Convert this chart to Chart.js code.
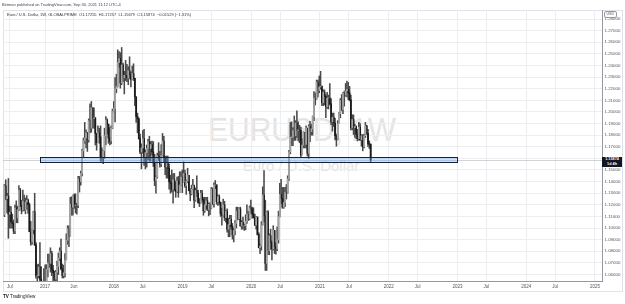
<!DOCTYPE html>
<html><head><meta charset="utf-8">
<script src="https://cdn.jsdelivr.net/npm/chart.js@4.4.0/dist/chart.umd.min.js"></script>
<style>
html,body{margin:0;padding:0;background:#fff;}
#wrap{position:relative;width:625px;height:304px;overflow:hidden;font-family:"Liberation Sans",Arial,sans-serif;}
#c{position:absolute;left:0;top:0;}
.t{position:absolute;white-space:nowrap;line-height:1;}
#frame{position:absolute;left:3px;top:10px;width:620px;height:282px;border:1px solid #dfe2e8;box-sizing:border-box;}
#wm1{left:302px;top:112px;font-size:34px;color:#e4e4e4;transform:translateX(-50%) scaleX(0.88);transform-origin:center;}
#wm2{left:301px;top:158px;font-size:15px;color:#e4e4e4;transform:translateX(-50%);}
#plabel{position:absolute;left:602px;width:20px;height:10px;background:#131722;color:#fff;font-size:3.8px;line-height:4.4px;text-align:center;font-weight:bold;padding-top:0.6px;box-sizing:border-box;}
#usd{left:604px;top:11px;font-size:3.6px;color:#555;border:0.5px solid #999;border-radius:2px;padding:0.5px 1.5px;}
</style></head><body>
<div id="wrap">
 <div id="frame"></div>
 <div class="t" id="wm1">EURUSD, 1W</div>
 <div class="t" id="wm2">Euro / U.S. Dollar</div>
 <canvas id="c" width="625" height="304"></canvas>
 <div class="t" style="left:2px;top:3px;font-size:4px;color:#444">Birtman published on TradingView.com, Sep 30, 2021 11:12 UTC-4</div>
 <div class="t" style="left:7px;top:13px;font-size:4px;color:#333">Euro / U.S. Dollar, 1W, GLOBALPRIME&nbsp; O1.17255&nbsp; H1.17257&nbsp; L1.15679&nbsp; C1.15874&nbsp; −0.01529 (−1.31%)</div>
 <div class="t" id="usd">USD</div>
 <div id="plabel">1.15874<br>1d 4h</div>
 <div class="t" style="left:3px;top:295px;font-size:4.6px;color:#131722"><b>TV</b> TradingView</div>
</div>
<script>
// ---- data (weekly EUR/USD candles, week starting 2016-05-30) ----
const weekStart = '2016-05-30';
const firstOpen = 1.1115;
const closes = [
 1.1365,1.1252,1.1275,1.1118,1.1135,1.1052,1.1040,1.0975,1.1175,1.1087,1.1160,1.1325,1.1197,1.1155,1.1233,1.1154,1.1226,1.1240,1.1201,1.0970,1.0880,1.0985,1.1140,1.0855,1.0588,1.0590,1.0665,1.0560,1.0450,1.0455,1.0520,
 1.0530,1.0645,1.0700,1.0695,1.0780,1.0640,1.0615,1.0560,1.0620,1.0670,1.0740,1.0800,1.0650,1.0590,1.0615,1.0725,1.0895,1.0995,1.0930,1.1205,1.1180,1.1280,1.1195,1.1198,1.1195,1.1425,1.1400,1.1470,1.1665,1.1750,1.1775,1.1820,1.1760,1.1925,1.1860,1.2035,1.1945,1.1950,1.1815,1.1735,1.1820,1.1785,1.1610,1.1610,1.1665,1.1795,1.1930,1.1895,1.1775,1.1750,1.1860,1.2005,
 1.2030,1.2200,1.2220,1.2425,1.2460,1.2250,1.2405,1.2295,1.2315,1.2310,1.2290,1.2355,1.2320,1.2280,1.2330,1.2290,1.2130,1.1960,1.1940,1.1770,1.1655,1.1690,1.1770,1.1610,1.1650,1.1685,1.1745,1.1685,1.1720,1.1655,1.1565,1.1410,1.1440,1.1625,1.1600,1.1550,1.1625,1.1750,1.1605,1.1525,1.1560,1.1515,1.1400,1.1385,1.1335,1.1415,1.1335,1.1315,1.1405,1.1305,1.1370,1.1440,1.1395,
 1.1470,1.1365,1.1405,1.1455,1.1325,1.1295,1.1335,1.1365,1.1240,1.1325,1.1300,1.1220,1.1215,1.1300,1.1245,1.1150,1.1200,1.1235,1.1160,1.1205,1.1170,1.1335,1.1210,1.1370,1.1370,1.1225,1.1270,1.1220,1.1125,1.1110,1.1200,1.1090,1.1145,1.0990,1.1030,1.1075,1.1015,1.0940,1.0980,1.1040,1.1145,1.1080,1.1165,1.1020,1.1050,1.1020,1.1020,1.1060,1.1120,1.1080,1.1175,1.1165,
 1.1120,1.1090,1.1025,1.1095,1.0945,1.0830,1.0845,1.1025,1.1285,1.1105,1.0695,1.1140,1.0805,1.0935,1.0875,1.0820,1.0980,1.0840,1.0820,1.0900,1.1100,1.1290,1.1255,1.1180,1.1220,1.1305,1.1300,1.1425,1.1655,1.1780,1.1785,1.1840,1.1795,1.1905,1.1840,1.1845,1.1840,1.1630,1.1715,1.1825,1.1720,1.1860,1.1645,1.1875,1.1830,1.1855,1.1960,1.2120,1.2110,1.2255,1.2185,1.2215,
 1.2220,1.2080,1.2170,1.2135,1.2045,1.2120,1.2120,1.2070,1.1915,1.1955,1.1905,1.1795,1.1765,1.1900,1.1985,1.2100,1.2020,1.2165,1.2145,1.2180,1.2195,1.2165,1.2105,1.1865,1.1935,1.1865,1.1875,1.1810,1.1770,1.1870,1.1760,1.1795,1.1700,1.1795,1.1880,1.1815,1.1725,1.1720,1.15874
];
const highs = [
 1.1375,1.1416,1.1299,1.1427,1.1188,1.1185,1.1120,1.1070,1.1198,1.1234,1.1189,1.1366,1.1343,1.1240,1.1327,1.1284,1.1259,1.1280,1.1250,1.1215,1.1058,1.0990,1.1145,1.1300,1.0875,1.0685,1.0690,1.0874,1.0667,1.0475,1.0652,
 1.0684,1.0685,1.0775,1.0775,1.0830,1.0800,1.0680,1.0630,1.0635,1.0715,1.0785,1.0830,1.0905,1.0690,1.0680,1.0780,1.0950,1.1020,1.1020,1.1265,1.1270,1.1285,1.1295,1.1295,1.1215,1.1445,1.1445,1.1490,1.1680,1.1775,1.1910,1.1845,1.1825,1.1940,1.2070,1.2090,1.2030,1.2035,1.1880,1.1815,1.1880,1.1860,1.1880,1.1690,1.1670,1.1860,1.1960,1.1940,1.1880,1.1865,1.1880,1.2025,
 1.2090,1.2295,1.2325,1.2535,1.2520,1.2510,1.2555,1.2420,1.2350,1.2445,1.2410,1.2390,1.2475,1.2345,1.2395,1.2415,1.2290,1.2130,1.1990,1.1950,1.1810,1.1725,1.1840,1.1850,1.1675,1.1715,1.1765,1.1790,1.1745,1.1750,1.1745,1.1635,1.1450,1.1645,1.1735,1.1660,1.1720,1.1815,1.1790,1.1620,1.1620,1.1620,1.1550,1.1455,1.1500,1.1470,1.1470,1.1400,1.1440,1.1445,1.1485,1.1485,1.1500,
 1.1570,1.1500,1.1415,1.1515,1.1450,1.1340,1.1370,1.1420,1.1370,1.1345,1.1450,1.1325,1.1255,1.1325,1.1325,1.1265,1.1265,1.1265,1.1265,1.1215,1.1220,1.1350,1.1345,1.1390,1.1410,1.1375,1.1285,1.1285,1.1225,1.1170,1.1250,1.1230,1.1150,1.1165,1.1085,1.1110,1.1110,1.1040,1.0995,1.1065,1.1180,1.1180,1.1175,1.1180,1.1065,1.1095,1.1035,1.1115,1.1200,1.1145,1.1190,1.1240,
 1.1180,1.1175,1.1120,1.1100,1.1095,1.0960,1.0865,1.1055,1.1355,1.1495,1.1240,1.1145,1.1150,1.0950,1.0990,1.0890,1.1020,1.0975,1.0875,1.1010,1.1145,1.1385,1.1420,1.1350,1.1350,1.1350,1.1375,1.1450,1.1670,1.1910,1.1915,1.1865,1.1965,1.1925,1.2010,1.1915,1.1885,1.1870,1.1770,1.1830,1.1800,1.1880,1.1860,1.1890,1.1920,1.1895,1.1965,1.2175,1.2165,1.2275,1.2275,1.2310,
 1.2350,1.2225,1.2190,1.2190,1.2150,1.2170,1.2145,1.2245,1.2115,1.1990,1.1990,1.1945,1.1810,1.1925,1.1995,1.2115,1.2150,1.2170,1.2180,1.2245,1.2265,1.2255,1.2220,1.2145,1.1975,1.1975,1.1895,1.1880,1.1850,1.1910,1.1900,1.1805,1.1805,1.1810,1.1910,1.1885,1.1850,1.1750,1.17257
];
const lows = [
 1.1098,1.1243,1.1131,1.0912,1.0999,1.1000,1.1000,1.0952,1.0952,1.1046,1.1045,1.1150,1.1185,1.1122,1.1145,1.1150,1.1123,1.1160,1.1125,1.0968,1.0852,1.0860,1.0950,1.0850,1.0569,1.0518,1.0570,1.0505,1.0367,1.0352,1.0400,
 1.0340,1.0520,1.0580,1.0660,1.0620,1.0590,1.0520,1.0495,1.0495,1.0525,1.0600,1.0720,1.0640,1.0570,1.0570,1.0580,1.0820,1.0860,1.0840,1.0930,1.1110,1.1110,1.1170,1.1130,1.1120,1.1175,1.1310,1.1370,1.1450,1.1610,1.1730,1.1690,1.1660,1.1740,1.1820,1.1825,1.1860,1.1860,1.1715,1.1670,1.1740,1.1730,1.1575,1.1575,1.1555,1.1600,1.1715,1.1810,1.1730,1.1715,1.1725,1.1855,
 1.2000,1.1915,1.2165,1.2215,1.2385,1.2205,1.2235,1.2260,1.2155,1.2270,1.2260,1.2235,1.2285,1.2215,1.2285,1.2270,1.2055,1.1910,1.1820,1.1765,1.1640,1.1510,1.1645,1.1540,1.1510,1.1525,1.1590,1.1575,1.1575,1.1630,1.1530,1.1365,1.1300,1.1430,1.1580,1.1525,1.1530,1.1620,1.1570,1.1460,1.1430,1.1430,1.1335,1.1300,1.1310,1.1215,1.1320,1.1265,1.1310,1.1265,1.1345,1.1365,1.1305,
 1.1410,1.1350,1.1290,1.1390,1.1320,1.1235,1.1285,1.1330,1.1175,1.1230,1.1270,1.1215,1.1185,1.1215,1.1225,1.1110,1.1135,1.1165,1.1150,1.1105,1.1115,1.1165,1.1200,1.1180,1.1340,1.1205,1.1195,1.1200,1.1100,1.1025,1.1145,1.1065,1.1050,1.0965,1.0925,1.0925,1.0990,1.0905,1.0880,1.0940,1.1000,1.1070,1.1075,1.1015,1.0990,1.0990,1.0980,1.0985,1.1040,1.1065,1.1070,1.1125,
 1.1085,1.1085,1.1020,1.0990,1.0940,1.0830,1.0780,1.0810,1.1050,1.1055,1.0635,1.0635,1.0770,1.0770,1.0815,1.0725,1.0810,1.0780,1.0775,1.0805,1.0870,1.1095,1.1210,1.1170,1.1170,1.1185,1.1250,1.1320,1.1410,1.1640,1.1710,1.1710,1.1755,1.1755,1.1780,1.1750,1.1735,1.1610,1.1630,1.1690,1.1690,1.1690,1.1620,1.1600,1.1745,1.1800,1.1800,1.1925,1.2060,1.2125,1.2130,1.2165,
 1.2195,1.2055,1.2055,1.2060,1.1950,1.2030,1.2025,1.2060,1.1890,1.1835,1.1875,1.1760,1.1705,1.1760,1.1900,1.1950,1.2010,1.1985,1.2050,1.2135,1.2130,1.2105,1.2095,1.1845,1.1845,1.1805,1.1780,1.1770,1.1750,1.1760,1.1755,1.1705,1.1665,1.1690,1.1780,1.1805,1.1700,1.1685,1.15679
];
const lastPrice = 1.15874;
// axis ticks
const yTickValues = [1.06,1.07,1.08,1.09,1.10,1.11,1.12,1.13,1.14,1.15,1.16,1.17,1.18,1.19,1.20,1.21,1.22,1.23,1.24,1.25,1.26,1.27,1.28];
const xTickValues = [2016.49,2017,2017.42,2018,2018.42,2019,2019.42,2020,2020.42,2021,2021.42,2022,2022.42,2023,2023.42,2024,2024.42,2025];
const xTickLabels = ['Jul','2017','Jun','2018','Jul','2019','Jul','2020','Jul','2021','Jul','2022','Jul','2023','Jul','2024','Jul','2025'];
// support zone rectangle (in data units)
const zoneStart = 2016.93, zoneEnd = 2022.99, zoneHigh = 1.1609, zoneLow = 1.1564;
const xMin = 2016.389, xMax = 2025.102, yMin = 1.0544, yMax = 1.2878;

function decYear(d){const y=d.getUTCFullYear();const s=Date.UTC(y,0,1),e=Date.UTC(y+1,0,1);return y+(d.getTime()-s)/(e-s);}
const t0 = new Date(weekStart+'T00:00:00Z').getTime();
const wicks=[], ups=[], downs=[];
closes.forEach((c,i)=>{
  const o = i ? closes[i-1] : firstOpen;
  const x = decYear(new Date(t0 + i*7*86400000));
  wicks.push({x, y:[Math.min(lows[i],o,c), Math.max(highs[i],o,c)]});
  const b = {x, y:[Math.min(o,c), Math.max(o,c)]};
  (c>=o ? ups : downs).push(b);
});

const overlay = {
  id:'overlay',
  beforeDatasetsDraw(chart){
    const {ctx, chartArea:a, scales:{y}} = chart;
    const py = Math.round(y.getPixelForValue(lastPrice))+0.5;
    ctx.save(); ctx.strokeStyle='#b2b5be'; ctx.lineWidth=0.6;
    ctx.beginPath(); ctx.moveTo(a.left,py); ctx.lineTo(a.right,py); ctx.stroke(); ctx.restore();
  },
  afterDatasetsDraw(chart){
    const {ctx, scales:{x,y}} = chart;
    const l=x.getPixelForValue(zoneStart), r=x.getPixelForValue(zoneEnd);
    const t=y.getPixelForValue(zoneHigh), b=y.getPixelForValue(zoneLow);
    ctx.save();
    ctx.fillStyle='rgba(100,170,240,0.35)';
    ctx.fillRect(l,t,r-l,b-t);
    ctx.strokeStyle='#14213d'; ctx.lineWidth=1;
    ctx.strokeRect(Math.round(l)+0.5,Math.round(t)+0.5,Math.round(r-l),Math.round(b-t));
    ctx.restore();
  }
};

const chart = new Chart(document.getElementById('c'), {
  type:'bar',
  data:{datasets:[
    {data:wicks, backgroundColor:'#4a4a4a', barThickness:0.9, grouped:false, order:3},
    {data:ups, backgroundColor:'#a6a6a6', barThickness:1.1, grouped:false, order:1},
    {data:downs, backgroundColor:'#1a1a1a', barThickness:1.1, grouped:false, order:2}
  ]},
  options:{
    responsive:false, animation:false, devicePixelRatio:1,
    layout:{padding:{left:3,top:10,right:2,bottom:13}},
    plugins:{legend:{display:false}, tooltip:{enabled:false}},
    scales:{
      x:{type:'linear', min:xMin, max:xMax, offset:false,
         grid:{color:'#eceef2', offset:false, drawTicks:false},
         border:{color:'#9598a1'},
         ticks:{autoSkip:false, maxRotation:0, color:'#555', padding:3, font:{family:'Liberation Sans', size:4.5},
                callback:(v,i)=>xTickLabels[i]},
         afterBuildTicks:s=>{s.ticks = xTickValues.map(v=>({value:v}));},
         afterFit:s=>{s.height=10;}},
      y:{position:'right', min:yMin, max:yMax,
         grid:{color:'#eceef2', drawTicks:false},
         border:{color:'#9598a1'},
         ticks:{autoSkip:false, color:'#555', padding:2.5, font:{family:'Liberation Sans', size:4.4},
                callback:v=>Number(v).toFixed(5)},
         afterBuildTicks:s=>{s.ticks = yTickValues.map(v=>({value:v}));},
         afterFit:s=>{s.width=21;}}
    }
  },
  plugins:[overlay]
});
const py = chart.scales.y.getPixelForValue(lastPrice);
const pl = document.getElementById('plabel');
pl.style.top = (py-3)+'px';
pl.style.left = (chart.chartArea.right)+'px';
</script>
</body></html>
